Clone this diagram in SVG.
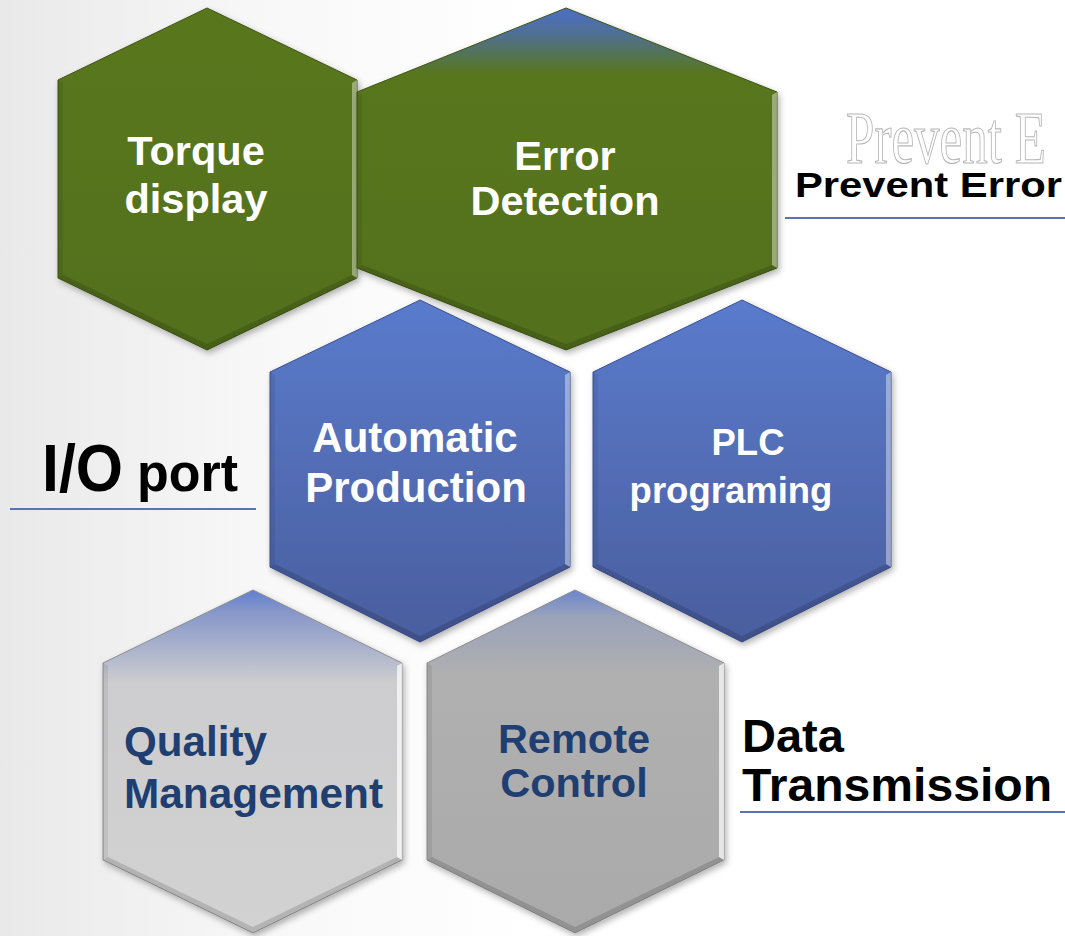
<svg xmlns="http://www.w3.org/2000/svg" width="1065" height="936" viewBox="0 0 1065 936">
<defs>
<linearGradient id="bg" x1="0" y1="0" x2="1" y2="0">
<stop offset="0" stop-color="#e9e9e9"/><stop offset="0.25" stop-color="#f8f8f8"/><stop offset="0.5" stop-color="#ffffff"/><stop offset="1" stop-color="#ffffff"/>
</linearGradient>
<linearGradient id="gGreen" x1="0" y1="0" x2="0" y2="1">
<stop offset="0" stop-color="#59771f"/><stop offset="1" stop-color="#52701c"/>
</linearGradient>
<linearGradient id="gGreenTop" x1="0" y1="0" x2="0" y2="1">
<stop offset="0" stop-color="#4d6ec6"/><stop offset="0.07" stop-color="#4f6f98"/><stop offset="0.19" stop-color="#58761f"/><stop offset="1" stop-color="#52701c"/>
</linearGradient>
<linearGradient id="gBlue" x1="0" y1="0" x2="0" y2="1">
<stop offset="0" stop-color="#5a7bcc"/><stop offset="1" stop-color="#4a5e9e"/>
</linearGradient>
<linearGradient id="gQual" x1="0" y1="0" x2="0" y2="1">
<stop offset="0" stop-color="#5f7fd0"/><stop offset="0.06" stop-color="#8596c9"/><stop offset="0.27" stop-color="#cdcdcf"/><stop offset="1" stop-color="#d2d2d2"/>
</linearGradient>
<linearGradient id="gRemote" x1="0" y1="0" x2="0" y2="1">
<stop offset="0" stop-color="#6a86cc"/><stop offset="0.08" stop-color="#9aa3ba"/><stop offset="0.25" stop-color="#b0b0b0"/><stop offset="1" stop-color="#aaaaaa"/>
</linearGradient>
<filter id="sh" x="-10%" y="-10%" width="120%" height="120%">
<feDropShadow dx="2" dy="3" stdDeviation="3" flood-color="#000" flood-opacity="0.3"/>
</filter>
</defs>
<style>
.hex{filter:url(#sh);stroke-width:1}
.green{stroke:#3e5514}
.blue{stroke:#3b4f8f}
.gray{stroke:#8c8c8c}
.hl{fill:#ffffff;fill-opacity:0.4}
.dk{fill:#000000;fill-opacity:0.14}
.dk2{fill:#000000;fill-opacity:0.07}
.wt{font-family:"Liberation Sans",Arial,sans-serif;font-weight:bold;fill:#ffffff;text-anchor:middle}
.nv{font-family:"Liberation Sans",Arial,sans-serif;font-weight:bold;fill:#1f3e72}
.lbl{font-family:"Liberation Sans",Arial,sans-serif;font-weight:bold;fill:#000000}
.ul{stroke:#5b73b5;stroke-width:2}
</style>
<rect width="1065" height="936" fill="url(#bg)"/>

<g id="ghost">
<text x="846" y="163" transform="translate(846 163) scale(0.69 1) translate(-846 -163)" font-family="'Liberation Serif',serif" font-size="74" fill="#ffffff" stroke="#b8b8b8" stroke-width="1.2">Prevent E</text>
</g>

<g id="node-torque">
<polygon class="hex green" points="207,8 357,80 357,278 207,350 58,278 58,80" fill="url(#gGreen)"/>
<polygon class="hl" points="357,80 357,278 352,275 352,83"/>
<polygon class="dk" points="357,278 207,350 207,344 352,275"/>
<polygon class="dk" points="207,350 58,278 63,275 207,344"/>
<polygon class="dk2" points="58,278 58,80 63,83 63,275"/>
<text class="wt" font-size="41.5" x="196" y="165">Torque</text>
<text class="wt" font-size="41.5" x="196" y="213">display</text>
</g>

<g id="node-error">
<polygon class="hex green" points="566,8 777,92 777,268 566,350 357,268 357,92" fill="url(#gGreenTop)"/>
<polygon class="hl" points="777,92 777,268 772,265 772,95"/>
<polygon class="dk" points="777,268 566,350 566,344 772,265"/>
<polygon class="dk" points="566,350 357,268 362,265 566,344"/>
<polygon class="dk2" points="357,268 357,92 362,95 362,265"/>
<text class="wt" font-size="41.5" x="565" y="170">Error</text>
<text class="wt" font-size="41.5" x="565" y="215">Detection</text>
</g>

<g id="node-automatic">
<polygon class="hex blue" points="420,300 570,372 570,567 420,642 270,567 270,372" fill="url(#gBlue)"/>
<polygon class="hl" points="570,372 570,567 565,564 565,375"/>
<polygon class="dk" points="570,567 420,642 420,636 565,564"/>
<polygon class="dk" points="420,642 270,567 275,564 420,636"/>
<polygon class="dk2" points="270,567 270,372 275,375 275,564"/>
<text class="wt" font-size="42" x="415" y="452">Automatic</text>
<text class="wt" font-size="42" x="416" y="502">Production</text>
</g>

<g id="node-plc">
<polygon class="hex blue" points="742,300 891,372 891,567 742,642 593,567 593,372" fill="url(#gBlue)"/>
<polygon class="hl" points="891,372 891,567 886,564 886,375"/>
<polygon class="dk" points="891,567 742,642 742,636 886,564"/>
<polygon class="dk" points="742,642 593,567 598,564 742,636"/>
<polygon class="dk2" points="593,567 593,372 598,375 598,564"/>
<text class="wt" font-size="36.5" x="748" y="455">PLC</text>
<text class="wt" font-size="36.5" x="731" y="503">programing</text>
</g>

<g id="node-quality">
<polygon class="hex gray" points="253,590 402,663 402,860 253,933 103,860 103,663" fill="url(#gQual)"/>
<polygon class="hl" points="402,663 402,860 397,857 397,666" style="fill-opacity:0.7"/>
<polygon class="dk" points="402,860 253,933 253,927 397,857"/>
<polygon class="dk" points="253,933 103,860 108,857 253,927"/>
<polygon class="dk2" points="103,860 103,663 108,666 108,857"/>
<text class="nv" font-size="42" x="124" y="756" textLength="143" lengthAdjust="spacingAndGlyphs">Quality</text>
<text class="nv" font-size="42" x="124" y="808" textLength="259" lengthAdjust="spacingAndGlyphs">Management</text>
</g>

<g id="node-remote">
<polygon class="hex gray" points="575,590 724,663 724,860 575,933 427,860 427,663" fill="url(#gRemote)"/>
<polygon class="hl" points="724,663 724,860 719,857 719,666" style="fill-opacity:0.7"/>
<polygon class="dk" points="724,860 575,933 575,927 719,857"/>
<polygon class="dk" points="575,933 427,860 432,857 575,927"/>
<polygon class="dk2" points="427,860 427,663 432,666 432,857"/>
<text class="nv" font-size="41.5" x="574" y="753" text-anchor="middle">Remote</text>
<text class="nv" font-size="41.5" x="574" y="797" text-anchor="middle">Control</text>
</g>

<g id="label-prevent">
<text class="lbl" font-size="35" x="795" y="197" textLength="267" lengthAdjust="spacingAndGlyphs">Prevent Error</text>
<line class="ul" x1="785" y1="218" x2="1065" y2="218"/>
</g>

<g id="label-io">
<g transform="translate(42 491) scale(1 1.15)">
<text class="lbl" font-size="58" x="0" y="0" textLength="81" lengthAdjust="spacingAndGlyphs">I/O</text>
<text class="lbl" font-size="47" x="95" y="0" textLength="101" lengthAdjust="spacingAndGlyphs">port</text>
</g>
<line class="ul" x1="10" y1="509" x2="256" y2="509"/>
</g>

<g id="label-data">
<text class="lbl" font-size="47" x="742" y="752">Data</text>
<text class="lbl" font-size="47" x="742" y="801" textLength="310" lengthAdjust="spacingAndGlyphs">Transmission</text>
<line class="ul" x1="740" y1="812" x2="1065" y2="812"/>
</g>

<g id="connectors"></g>
</svg>
